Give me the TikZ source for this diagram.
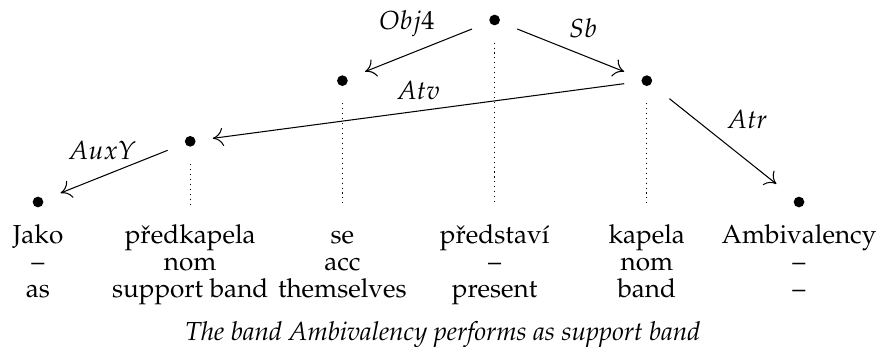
\documentclass[tikz,border=0pt]{standalone}
\usepackage[T1]{fontenc}
\usepackage{mathpazo}
\usetikzlibrary{arrows.meta}

\tikzset{
  dotnode/.style={minimum size=16.9pt, inner sep=0pt,
    path picture={\fill (path picture bounding box.center) circle (2.05pt);}},
  dep/.style={-{Computer Modern Rightarrow[length=4pt,width=7pt]}},
  proj/.style={dash pattern=on 0.4pt off 1.5pt},
  word/.style={anchor=base, text height=7.3pt, inner xsep=0pt, inner ysep=7.3pt},
  gloss/.style={anchor=base, inner sep=0pt},
  lbl/.style={inner sep=0pt},
  capt/.style={anchor=base, inner sep=0pt, font=\itshape}
}

\begin{document}
\begin{tikzpicture}[x=2.0496cm, y=0.817cm]
\useasboundingbox (-0.2497,-2.39) rectangle (5.5256,3.3295);

% tree nodes
\node[dotnode] (jako) at (0,0) {};
\node[dotnode] (pkap) at (1,1) {};
\node[dotnode] (se) at (2,2) {};
\node[dotnode] (pred) at (3,3) {};
\node[dotnode] (kap) at (4,2) {};
\node[dotnode] (amb) at (5,0) {};

% words, tags and glosses
\foreach \col/\w/\m/\g in {0/Jako/--/as, 1/p\v{r}edkapela/nom/support band,
    2/se/acc/themselves, 3/p\v{r}edstav\'{\i}/--/present, 4/kapela/nom/band,
    5/Ambivalency/--/--} {
  \node[word] (w\col) at (\col,-0.676) {\w};
  \node[gloss] (m\col) at (\col,-1.121) {\m};
  \node[gloss] (g\col) at (\col,-1.566) {\g};
}

% projection lines
\foreach \n/\col in {pkap/1, se/2, pred/3, kap/4}
  \draw[proj] (\n.south) -- (w\col.north);

% dependencies
\draw[dep] (pred) -- (se);
\draw[dep] (pred) -- (kap);
\draw[dep] (kap) -- (pkap);
\draw[dep] (kap) -- (amb);
\draw[dep] (pkap) -- (jako);

\node[lbl] (lobj) at (2.424,2.934) {$Obj4$};
\node[lbl] (lsb) at (3.581,2.868) {$Sb$};
\node[lbl] (latv) at (2.497,1.846) {$Atv$};
\node[lbl] (latr) at (4.658,1.368) {$Atr$};
\node[lbl] (laux) at (0.42,0.857) {$AuxY$};

\node[capt] (cap) at (2.66,-2.275) {The band Ambivalency performs as support band};
\end{tikzpicture}
\end{document}
